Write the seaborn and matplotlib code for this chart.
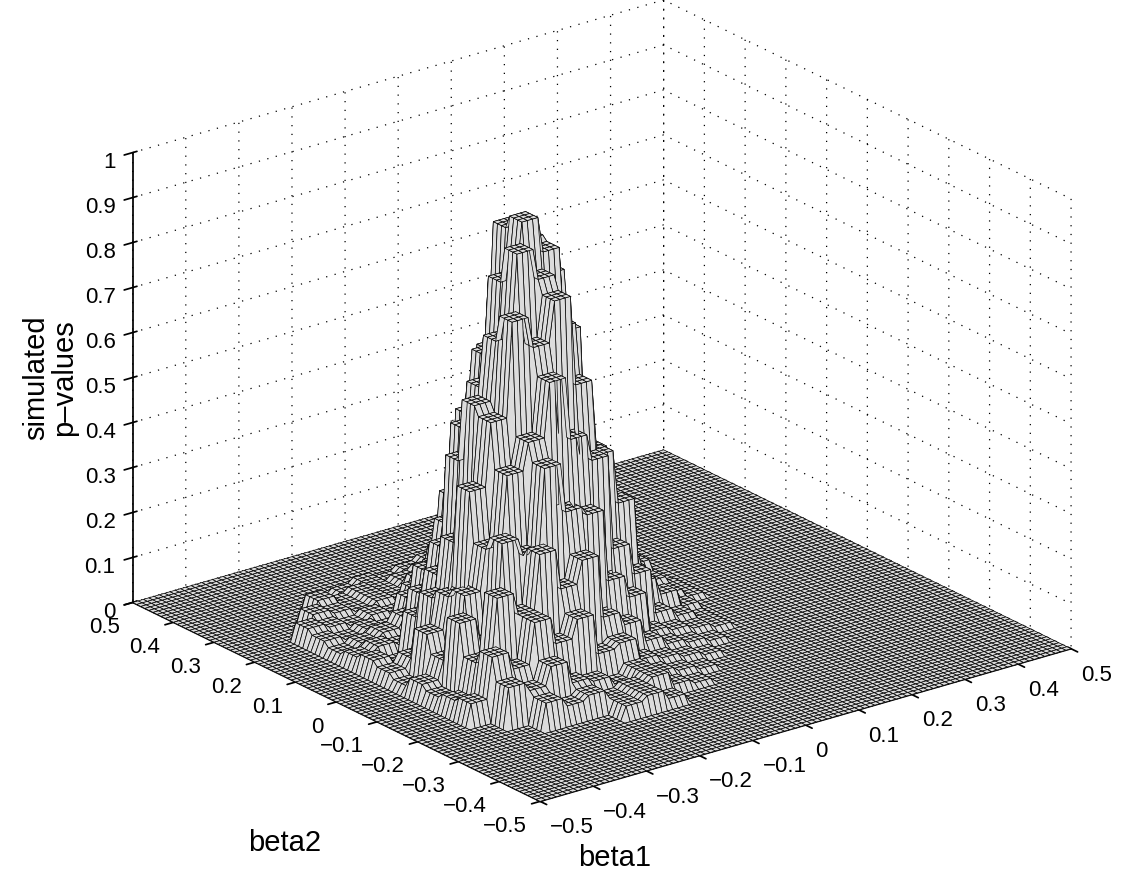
import numpy as np
import matplotlib
matplotlib.use('Agg')
import matplotlib.pyplot as plt
import seaborn as sns

# grid of the simulation (beta1 along x, beta2 along y)
beta1 = np.round(np.arange(-0.5, 0.5001, 0.01), 2)
beta2 = np.round(np.arange(-0.5, 0.5001, 0.01), 2)

# simulated p-values, one value per 4x4 block of grid points
# block rows: beta2 from -0.32 upward, block cols: beta1 from -0.40 upward
block_size = 4
row_start = 18   # beta2 = -0.32
col_start = 10   # beta1 = -0.40
pvalue_blocks = [
    [0.00, 0.00, 0.00, 0.00, 0.00, 0.03, 0.04, 0.02, 0.00, 0.00, 0.00, 0.00, 0.00, 0.00, 0.00],
    [0.00, 0.00, 0.06, 0.04, 0.05, 0.03, 0.04, 0.05, 0.02, 0.01, 0.00, 0.00, 0.00, 0.00, 0.00],
    [0.00, 0.09, 0.07, 0.11, 0.06, 0.05, 0.03, 0.05, 0.03, 0.02, 0.01, 0.00, 0.00, 0.00, 0.00],
    [0.05, 0.14, 0.10, 0.19, 0.13, 0.17, 0.08, 0.09, 0.04, 0.03, 0.02, 0.01, 0.00, 0.00, 0.00],
    [0.04, 0.11, 0.24, 0.19, 0.31, 0.22, 0.27, 0.13, 0.10, 0.05, 0.03, 0.02, 0.01, 0.00, 0.00],
    [0.03, 0.18, 0.12, 0.33, 0.29, 0.47, 0.36, 0.34, 0.18, 0.13, 0.04, 0.03, 0.02, 0.01, 0.00],
    [0.04, 0.08, 0.21, 0.30, 0.45, 0.51, 0.63, 0.49, 0.43, 0.22, 0.15, 0.05, 0.03, 0.01, 0.00],
    [0.02, 0.12, 0.19, 0.41, 0.55, 0.76, 0.69, 0.78, 0.58, 0.41, 0.29, 0.10, 0.06, 0.02, 0.00],
    [0.03, 0.05, 0.17, 0.28, 0.57, 0.70, 0.88, 0.81, 0.69, 0.40, 0.27, 0.13, 0.04, 0.03, 0.01],
    [0.04, 0.02, 0.11, 0.19, 0.43, 0.58, 0.80, 0.92, 0.84, 0.65, 0.37, 0.23, 0.08, 0.04, 0.01],
    [0.03, 0.04, 0.03, 0.13, 0.22, 0.47, 0.62, 0.89, 0.85, 0.76, 0.50, 0.34, 0.14, 0.06, 0.00],
    [0.02, 0.03, 0.04, 0.06, 0.15, 0.24, 0.47, 0.60, 0.81, 0.70, 0.61, 0.36, 0.25, 0.09, 0.00],
    [0.03, 0.02, 0.03, 0.02, 0.07, 0.12, 0.27, 0.38, 0.55, 0.61, 0.52, 0.44, 0.24, 0.15, 0.00],
    [0.04, 0.03, 0.02, 0.03, 0.02, 0.06, 0.10, 0.23, 0.30, 0.41, 0.44, 0.33, 0.28, 0.14, 0.00],
    [0.00, 0.04, 0.03, 0.02, 0.03, 0.02, 0.05, 0.10, 0.14, 0.25, 0.22, 0.29, 0.20, 0.16, 0.00],
    [0.00, 0.00, 0.04, 0.02, 0.03, 0.02, 0.03, 0.04, 0.08, 0.09, 0.15, 0.14, 0.16, 0.10, 0.00],
    [0.00, 0.00, 0.00, 0.00, 0.01, 0.02, 0.01, 0.02, 0.03, 0.05, 0.06, 0.09, 0.07, 0.05, 0.00],
    [0.00, 0.00, 0.00, 0.00, 0.00, 0.00, 0.00, 0.00, 0.00, 0.00, 0.03, 0.04, 0.04, 0.00, 0.00],
]

xy_ticks = [-0.5, -0.4, -0.3, -0.2, -0.1, 0, 0.1, 0.2, 0.3, 0.4, 0.5]
xy_ticklabels = ['\u22120.5', '\u22120.4', '\u22120.3', '\u22120.2', '\u22120.1',
                 '0', '0.1', '0.2', '0.3', '0.4', '0.5']
z_ticks = [0, 0.1, 0.2, 0.3, 0.4, 0.5, 0.6, 0.7, 0.8, 0.9, 1]
z_ticklabels = ['0', '0.1', '0.2', '0.3', '0.4', '0.5', '0.6', '0.7', '0.8', '0.9', '1']


def build_surface():
    blocks = np.array(pvalue_blocks)
    fine = np.repeat(np.repeat(blocks, block_size, axis=0), block_size, axis=1)
    z = np.zeros((len(beta2), len(beta1)))
    z[row_start:row_start + fine.shape[0], col_start:col_start + fine.shape[1]] = fine
    return z


def main():
    sns.set_theme(style='white')
    plt.rcParams['font.family'] = ['Liberation Sans', 'DejaVu Sans']
    plt.rcParams['text.color'] = 'black'
    plt.rcParams['grid.linestyle'] = (0, (1, 6))
    plt.rcParams['grid.color'] = 'black'
    plt.rcParams['grid.linewidth'] = 0.9
    plt.rcParams['axes.edgecolor'] = 'black'

    fig = plt.figure(figsize=(11.28, 8.75), dpi=100)
    ax = fig.add_axes([0.0231, 0.0286, 1.0, 1.0], projection='3d')
    ax.set_proj_type('ortho')
    ax.view_init(elev=22, azim=-127.5)
    ax.set_box_aspect((1, 1, 0.725), zoom=1.18)

    B1, B2 = np.meshgrid(beta1, beta2)
    Z = build_surface()
    surf = ax.plot_surface(B1, B2, Z, rstride=1, cstride=1, color='#dcdcdc',
                           edgecolor='black', linewidth=0.5, shade=False,
                           antialiased=True)
    surf.set_clip_on(False)

    ax.set_xlim(-0.5, 0.5)
    ax.set_ylim(-0.5, 0.5)
    ax.set_zlim(0, 1)
    ax.set_xticks(xy_ticks)
    ax.set_xticklabels(xy_ticklabels)
    ax.set_yticks(xy_ticks)
    ax.set_yticklabels(xy_ticklabels)
    ax.set_zticks(z_ticks)
    ax.set_zticklabels(z_ticklabels)
    ax.tick_params(labelsize=16, labelcolor='black', color='black')
    ax.tick_params(axis='x', pad=0)
    ax.tick_params(axis='y', pad=0)
    ax.tick_params(axis='z', pad=-2)
    for t in ax.get_xticklabels():
        t.set_ha('left')
    for t in ax.get_yticklabels():
        t.set_ha('right')
    for t in ax.get_zticklabels():
        t.set_ha('right')

    for axis in (ax.xaxis, ax.yaxis, ax.zaxis):
        axis.set_pane_color((1, 1, 1, 0))
        axis.pane.set_edgecolor((1, 1, 1, 0))
        axis.line.set_color('black')

    fig.text(285 / 1128, 1 - 843 / 875, 'beta2', fontsize=21,
             ha='center', va='center')
    fig.text(615 / 1128, 1 - 858 / 875, 'beta1', fontsize=21,
             ha='center', va='center')
    fig.text(50 / 1128, 1 - 378 / 875, 'simulated\np\u2013values', fontsize=21,
             ha='center', va='center', rotation=90, linespacing=1.0)

    fig.savefig('out.png', dpi=100, facecolor='white')


if __name__ == '__main__':
    main()
